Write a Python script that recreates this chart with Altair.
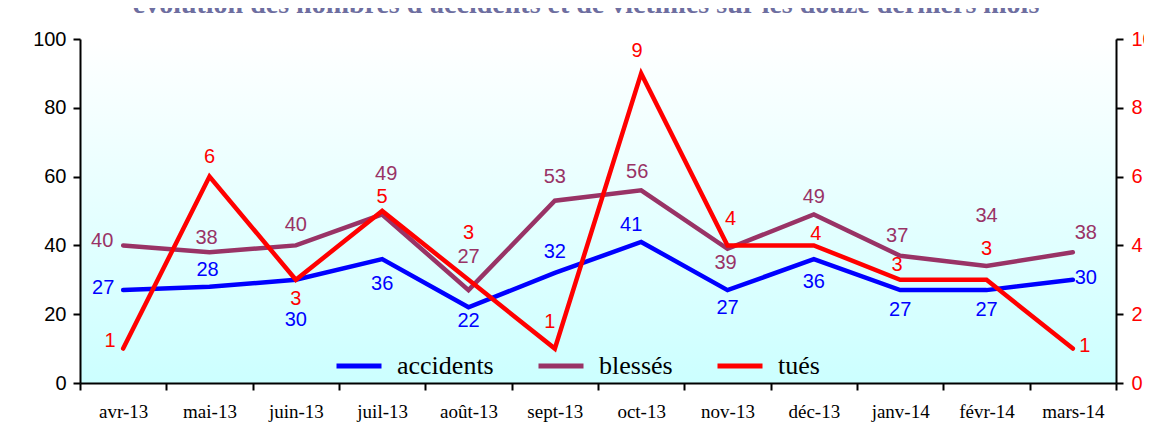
import altair as alt
import pandas as pd

# ---------------- data ----------------
months = ["avr-13", "mai-13", "juin-13", "juil-13", "août-13", "sept-13",
          "oct-13", "nov-13", "déc-13", "janv-14", "févr-14", "mars-14"]
accidents = [27, 28, 30, 36, 22, 32, 41, 27, 36, 27, 27, 30]
blesses = [40, 38, 40, 49, 27, 53, 56, 39, 49, 37, 34, 38]
tues = [1, 6, 3, 5, 3, 1, 9, 4, 4, 3, 3, 1]
series_names = ["accidents", "blessés", "tués"]
title_text = "évolution des nombres d'accidents et de victimes sur les douze derniers mois"

# ---------------- layout / style ----------------
colors = {"accidents": "#0000FF", "blessés": "#993366", "tués": "#FF0000"}
# label offsets (dx, dy) in pixels from each point, per series, in month order
label_offsets = {
    "accidents": [(-20, -2), (-2, -17), (0, 40), (0, 25), (0, 14), (0, -21),
                  (-10, -17), (0, 18), (0, 23), (0, 20), (0, 20), (13, -2)],
    "blessés": [(-21, -4), (-3, -14), (0, -20), (4, -40), (0, -33), (0, -24),
                (-4, -18), (-2, 14), (0, -17), (-3, -20), (0, -50), (13, -19)],
    "tués": [(-13, -8), (0, -20), (0, 19), (0, -14), (0, -47), (-5, -27),
             (-4, -22), (3, -26), (2, -11), (-3, -15), (0, -31), (12, -3)],
}

PLOT_W, PLOT_H = 1036, 344

df = pd.DataFrame({"mois": months, "accidents": accidents,
                   "blessés": blesses, "tués": tues})

x_enc = alt.X(
    "mois:N", sort=months,
    scale=alt.Scale(type="band", paddingInner=0, paddingOuter=0),
    bandPosition=0.5,
    axis=alt.Axis(title=None, labelAngle=0, tickBand="extent",
                  labelFont="Liberation Serif", labelFontSize=19,
                  labelColor="black", labelPadding=12,
                  domainColor="black", domainWidth=2,
                  tickColor="black", tickWidth=2, tickSize=7, zindex=2),
)

color_enc = alt.Color(
    "série:N",
    scale=alt.Scale(domain=series_names, range=[colors[s] for s in series_names]),
    legend=alt.Legend(title=None, orient="none", legendX=254, legendY=302,
                      direction="horizontal", symbolType="stroke",
                      symbolSize=2025, symbolStrokeWidth=5,
                      labelFont="Liberation Serif", labelFontSize=26,
                      labelColor="black", labelOffset=13, columnPadding=34,
                      padding=0, labelBaseline="middle"),
)

y_left = alt.Y("valeur:Q", scale=alt.Scale(domain=[0, 100]),
               axis=alt.Axis(title=None, values=[0, 20, 40, 60, 80, 100],
                             orient="left", grid=False,
                             labelFont="Liberation Sans", labelFontSize=20,
                             labelColor="black", labelPadding=7,
                             domainColor="black", domainWidth=2,
                             tickColor="black", tickWidth=2, tickSize=7,
                             zindex=2))
y_right = alt.Y("valeur:Q", scale=alt.Scale(domain=[0, 10]),
                axis=alt.Axis(title=None, values=[0, 2, 4, 6, 8, 10],
                              orient="right", grid=False,
                              labelFont="Liberation Sans", labelFontSize=20,
                              labelColor="#FF0000", labelPadding=8,
                              domainColor="black", domainWidth=2,
                              tickColor="black", tickWidth=2, tickSize=7,
                              zindex=2))


def series_base(name):
    return (alt.Chart(df)
            .transform_calculate(valeur=f"datum['{name}']", série=f"'{name}'"))


def label_layers(name, y_enc):
    groups = {}
    for m, off in zip(months, label_offsets[name]):
        groups.setdefault(off, []).append(m)
    layers = []
    for (dx, dy), ms in groups.items():
        layers.append(
            series_base(name)
            .transform_filter(alt.FieldOneOfPredicate(field="mois", oneOf=ms))
            .mark_text(font="Liberation Sans", fontSize=20, dx=dx, dy=dy,
                       align="center", baseline="middle", color=colors[name])
            .encode(x=x_enc, y=y_enc, text=alt.Text(f"{name}:Q"))
        )
    return layers


def line_layer(name, y_enc):
    return (series_base(name)
            .mark_line(strokeWidth=4.5, strokeCap="round", strokeJoin="miter")
            .encode(x=x_enc, y=y_enc, color=color_enc))


gradient = alt.LinearGradient(
    gradient="linear", x1=0, y1=0, x2=0, y2=1,
    stops=[alt.GradientStop(offset=0, color="#FFFFFF"),
           alt.GradientStop(offset=1, color="#CCFFFF")],
)

background = (
    alt.Chart(pd.DataFrame({"fond": [0]}))
    .mark_rect(color=gradient)
    .encode(x=alt.value(0), x2=alt.value(PLOT_W),
            y=alt.value(0), y2=alt.value(PLOT_H))
)

title_mark = (
    alt.Chart(pd.DataFrame({"titre": [title_text]}))
    .mark_text(font="Liberation Serif", fontSize=28, fontWeight="bold",
               color="#6E6EA0", align="center", baseline="alphabetic")
    .encode(text="titre:N", x=alt.value(506), y=alt.value(-26))
)

left = alt.layer(
    line_layer("blessés", y_left),
    line_layer("accidents", y_left),
    *label_layers("blessés", y_left),
    *label_layers("accidents", y_left),
)
right = alt.layer(
    line_layer("tués", y_right),
    *label_layers("tués", y_right),
)

chart = (
    alt.layer(background, title_mark, left, right)
    .resolve_scale(y="independent")
    .properties(
        width=PLOT_W, height=PLOT_H,
        autosize=alt.AutoSizeParams(type="none"),
        padding={"left": 72, "top": 31, "right": 28, "bottom": 42},
    )
    .configure_view(stroke=None)
    .configure(background="white")
)

chart.save("out.html", embed_options={"renderer": "svg", "actions": False})
